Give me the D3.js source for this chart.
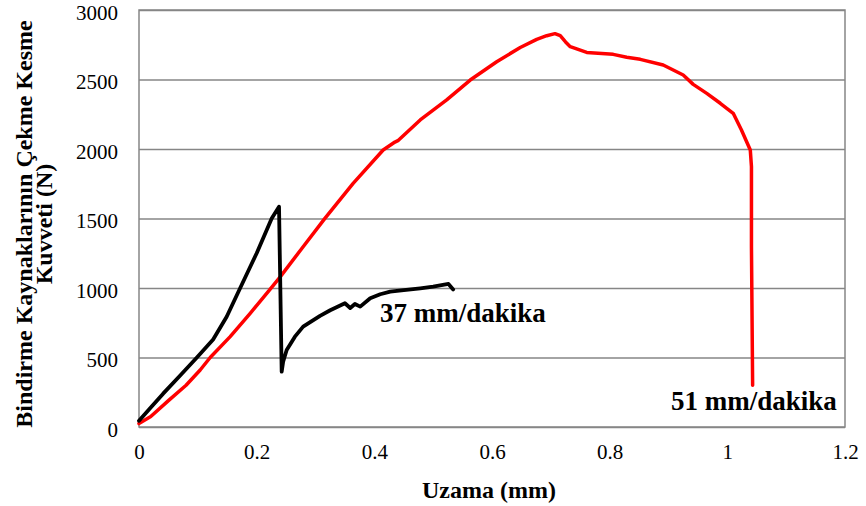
<!DOCTYPE html>
<html>
<head>
<meta charset="utf-8">
<script src="https://cdn.jsdelivr.net/npm/d3@7"></script>
<style>
  html, body { margin: 0; padding: 0; background: #fff; }
  svg { display: block; }
  text { font-family: "Liberation Serif", "Times New Roman", serif; fill: #000; }
</style>
</head>
<body>
<svg id="chart" width="866" height="506"></svg>
<script>
// Elongation (mm) vs. tensile-shear force (N) for two test speeds
const seriesNames = ["37 mm/dakika", "51 mm/dakika"];

const elong37 = [0, 0.02, 0.041, 0.07, 0.098, 0.126, 0.149, 0.172, 0.2, 0.2255, 0.238,
  0.2425, 0.245, 0.251, 0.265, 0.279, 0.3077, 0.325, 0.35, 0.359, 0.367, 0.376, 0.393,
  0.41, 0.427, 0.45, 0.478, 0.5, 0.526, 0.534];
const force37 = [45, 140, 240, 370, 498, 630, 793, 1000, 1250, 1500, 1585,
  398, 470, 554, 650, 722, 800, 840, 890, 856, 885, 866, 926,
  955, 974, 985, 998, 1010, 1029, 990];

const elong51 = [0, 0.02, 0.05, 0.08, 0.104, 0.121, 0.155, 0.189, 0.2227, 0.24, 0.279,
  0.316, 0.364, 0.415, 0.435, 0.44, 0.478, 0.523, 0.563, 0.608, 0.648, 0.676, 0.693,
  0.707, 0.716, 0.725, 0.733, 0.761, 0.806, 0.829, 0.852, 0.891, 0.925, 0.942, 0.965,
  0.988, 1.01, 1.024, 1.039, 1.041, 1.041, 1.043];
const force51 = [25, 75, 190, 300, 410, 500, 650, 818, 990, 1080, 1297,
  1501, 1753, 1993, 2050, 2060, 2209, 2353, 2496, 2628, 2730, 2789, 2815,
  2830, 2815, 2770, 2736, 2695, 2681, 2660, 2645, 2604, 2532, 2465, 2400,
  2329, 2257, 2137, 1993, 1873, 1297, 300];

const xTicks = [0, 0.2, 0.4, 0.6, 0.8, 1, 1.2];
const yTicks = [0, 500, 1000, 1500, 2000, 2500, 3000];

const xTitle = "Uzama (mm)";
const yTitleLines = ["Bindirme Kaynaklarının Çekme Kesme", "Kuvveti (N)"];

const svg = d3.select("#chart");
const plot = { left: 139, right: 845, top: 10, bottom: 427 };

const x = d3.scaleLinear().domain([0, 1.2]).range([plot.left, plot.right]);
const y = d3.scaleLinear().domain([0, 3000]).range([plot.bottom, plot.top]);

// horizontal gridlines
svg.append("g")
  .attr("transform", `translate(${plot.left},0)`)
  .call(d3.axisLeft(y).tickValues(yTicks).tickSize(-(plot.right - plot.left)).tickFormat(""))
  .call(g => g.select(".domain").remove())
  .call(g => g.selectAll("line").attr("stroke", "#868686").attr("stroke-width", 1.5));

// plot frame
svg.append("rect")
  .attr("x", plot.left).attr("y", plot.top)
  .attr("width", plot.right - plot.left).attr("height", plot.bottom - plot.top)
  .attr("fill", "none").attr("stroke", "#868686").attr("stroke-width", 1.5);

// y tick labels
svg.append("g")
  .attr("transform", `translate(${plot.left},0)`)
  .call(d3.axisLeft(y).tickValues(yTicks).tickSize(0).tickPadding(21).tickFormat(d3.format("d")))
  .call(g => g.select(".domain").remove())
  .call(g => g.selectAll("text").attr("font-size", 21).attr("dy", "0.43em")
    .attr("font-family", "Liberation Serif").attr("fill", "#000"));

// x tick labels
svg.append("g")
  .attr("transform", `translate(0,${plot.bottom})`)
  .call(d3.axisBottom(x).tickValues(xTicks).tickSize(0).tickPadding(17).tickFormat(d => String(d)))
  .call(g => g.select(".domain").remove())
  .call(g => g.selectAll("text").attr("font-size", 21).attr("font-family", "Liberation Serif").attr("fill", "#000"));

const line = d3.line().x(d => x(d[0])).y(d => y(d[1]));

const data51 = elong51.map((e, i) => [e, force51[i]]);
const data37 = elong37.map((e, i) => [e, force37[i]]);

svg.append("path").datum(data51)
  .attr("d", line).attr("fill", "none").attr("stroke", "#ff0000")
  .attr("stroke-width", 3.5).attr("stroke-linejoin", "round").attr("stroke-linecap", "round");

svg.append("path").datum(data37)
  .attr("d", line).attr("fill", "none").attr("stroke", "#000")
  .attr("stroke-width", 3.8).attr("stroke-linejoin", "round").attr("stroke-linecap", "round");

// series labels
svg.append("text").attr("x", 380).attr("y", 322)
  .attr("font-size", 27).attr("font-weight", "bold").text(seriesNames[0]);
svg.append("text").attr("x", 671).attr("y", 410)
  .attr("font-size", 27).attr("font-weight", "bold").text(seriesNames[1]);

// axis titles
svg.append("text")
  .attr("x", (plot.left + plot.right) / 2 - 3).attr("y", 498)
  .attr("text-anchor", "middle").attr("font-size", 24).attr("font-weight", "bold")
  .text(xTitle);

const yt = svg.append("text")
  .attr("transform", "translate(0,224) rotate(-90)")
  .attr("text-anchor", "middle").attr("font-size", 24).attr("font-weight", "bold");
yTitleLines.forEach((t, i) => {
  yt.append("tspan").attr("x", 0).attr("y", 32 + i * 20).text(t);
});
</script>
</body>
</html>
